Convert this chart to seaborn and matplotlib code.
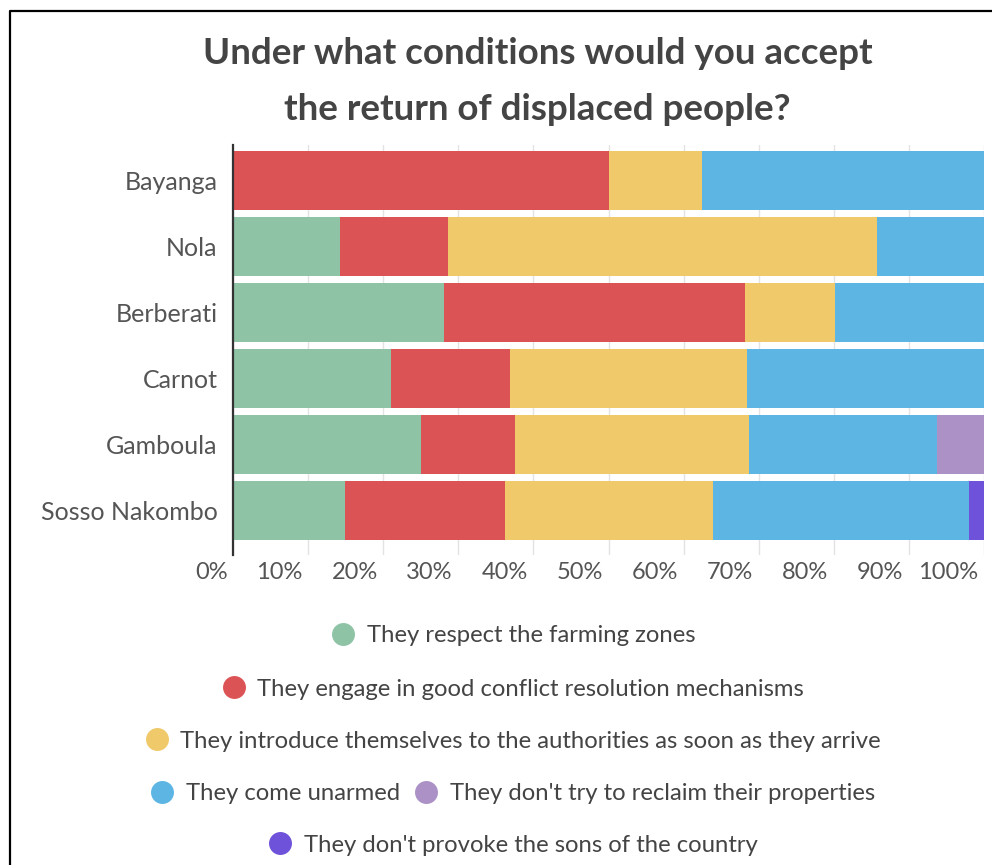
import numpy as np
import pandas as pd
import matplotlib
matplotlib.use("Agg")
import matplotlib.pyplot as plt
import matplotlib.transforms as mtransforms
from matplotlib.lines import Line2D
import seaborn as sns

# Data (percent of respondents per town)
towns = ["Bayanga", "Nola", "Berberati", "Carnot", "Gamboula", "Sosso Nakombo"]
answers = [
    "They respect the farming zones",
    "They engage in good conflict resolution mechanisms",
    "They introduce themselves to the authorities as soon as they arrive",
    "They come unarmed",
    "They don't try to reclaim their properties",
    "They don't provoke the sons of the country",
]
respect_zones = [0.0, 14.3, 28.1, 21.1, 25.0, 14.9]
conflict_resolution = [50.0, 14.3, 40.1, 15.8, 12.5, 21.3]
introduce_authorities = [12.5, 57.1, 12.0, 31.6, 31.25, 27.7]
come_unarmed = [37.5, 14.3, 19.8, 31.5, 25.0, 34.1]
no_reclaim = [0.0, 0.0, 0.0, 0.0, 6.25, 0.0]
no_provoke = [0.0, 0.0, 0.0, 0.0, 0.0, 2.0]
xtick_values = [0, 10, 20, 30, 40, 50, 60, 70, 80, 90, 100]
xtick_labels = ["0%", "10%", "20%", "30%", "40%", "50%", "60%", "70%", "80%", "90%", "100%"]

colors = ["#8fc3a6", "#dc5356", "#efc96a", "#5db5e3", "#ab91c6", "#6e52da"]

sns.set_style("white")
plt.rcParams["font.family"] = ["Lato", "DejaVu Sans"]

series = [respect_zones, conflict_resolution, introduce_authorities,
          come_unarmed, no_reclaim, no_provoke]
df = pd.DataFrame(np.array(series).T, columns=answers)
df.insert(0, "town", towns)
cum = df[answers].cumsum(axis=1)

fig = plt.figure(figsize=(9.92, 8.65), dpi=100)
ax = fig.add_axes([233 / 992, 1 - 555 / 865, 751 / 992, 410 / 865])

# stacked bars: draw cumulative totals from longest to shortest
for ans, col in reversed(list(zip(answers, colors))):
    sns.barplot(x=cum[ans], y=df["town"], orient="h", color=col,
                width=0.9, saturation=1, linewidth=0, ax=ax, zorder=2)

ax.set_xlim(0, 100)
ax.set_ylim(5.68, -0.54)
ax.set_xlabel("")
ax.set_ylabel("")
ax.set_xticks(xtick_values)
ax.set_xticklabels(xtick_labels)
ax.grid(axis="x", color="#e3e3e3", linewidth=1, zorder=0)
ax.grid(axis="y", visible=False)
ax.set_axisbelow(True)
for s in ["top", "right", "bottom"]:
    ax.spines[s].set_visible(False)
ax.spines["left"].set_color("#333333")
ax.spines["left"].set_linewidth(1.6)
ax.spines["left"].set_zorder(3)

ax.tick_params(axis="x", length=0, pad=5, labelsize=17, labelcolor="#555555")
ax.tick_params(axis="y", length=0, pad=11, labelsize=18, labelcolor="#555555")
offset = mtransforms.ScaledTranslation(-4 / 72, 0, fig.dpi_scale_trans)
for lab in ax.get_xticklabels():
    lab.set_ha("right")
    lab.set_transform(lab.get_transform() + offset)

fig.text(0.542, 1 - 53 / 865, "Under what conditions would you accept",
         ha="center", va="center", fontsize=26.5, fontweight="bold", color="#444444")
fig.text(0.542, 1 - 109 / 865, "the return of displaced people?",
         ha="center", va="center", fontsize=26.5, fontweight="bold", color="#444444")

# legend rows laid out like the original
rows = [[0], [1], [2], [3, 4], [5]]
row_y = [636, 689, 741, 794, 845]
for idx, yy in zip(rows, row_y):
    handles = [Line2D([], [], marker="o", linestyle="", markersize=15.5,
                      color=colors[i]) for i in idx]
    fig.legend(handles, [answers[i] for i in idx], loc="center",
               bbox_to_anchor=(0.517, 1 - yy / 865), ncol=len(idx),
               frameon=False, fontsize=17.2, labelcolor="#444444",
               handlelength=1.0, handletextpad=0.5, columnspacing=0.6,
               borderpad=0, borderaxespad=0)

# screenshot frame
fig.add_artist(Line2D([10 / 992, 10 / 992, 1.0], [0.0, 1 - 11 / 865, 1 - 11 / 865],
                      transform=fig.transFigure, color="black", linewidth=1.6))

fig.savefig("out.png", dpi=100)
